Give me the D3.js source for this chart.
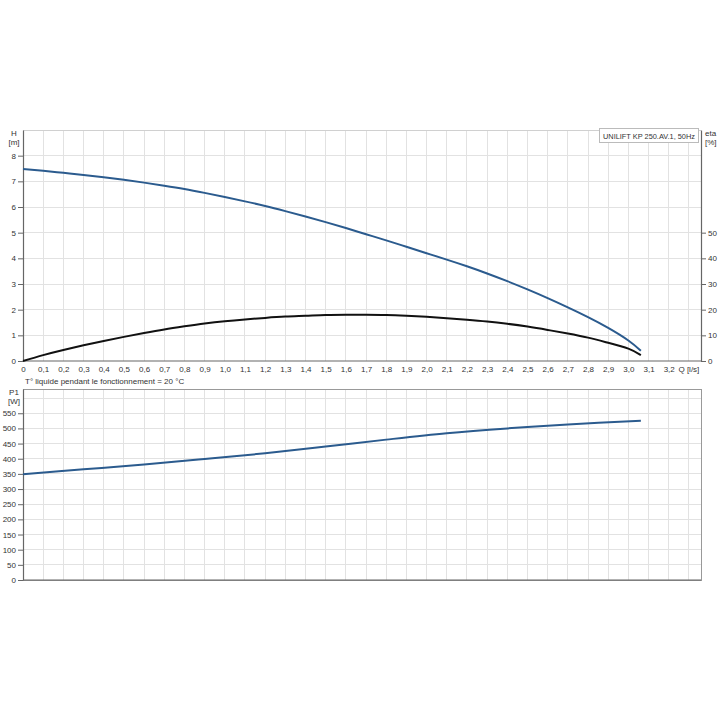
<!DOCTYPE html>
<html><head><meta charset="utf-8">
<script src="https://cdn.jsdelivr.net/npm/d3@7"></script>
<style>
body{margin:0;background:#fff}
svg text{font-family:"Liberation Sans",Arial,sans-serif;fill:#333}
</style>
</head><body>
<svg id="c" width="720" height="720"></svg>
<script>
// ---- data ----
const flowQ = [0,0.1,0.2,0.3,0.4,0.5,0.6,0.7,0.8,0.9,1.0,1.1,1.2,1.3,1.4,1.5,1.6,1.7,1.8,1.9,2.0,2.1,2.2,2.3,2.4,2.5,2.6,2.7,2.8,2.9,3.0,3.062];
const headH = [7.48,7.41,7.33,7.25,7.16,7.06,6.95,6.83,6.70,6.55,6.39,6.22,6.04,5.84,5.63,5.41,5.18,4.94,4.70,4.45,4.20,3.95,3.69,3.41,3.11,2.79,2.45,2.09,1.71,1.29,0.80,0.40];
const effEta = [0,2.3,4.3,6.1,7.8,9.4,10.9,12.3,13.5,14.6,15.5,16.2,16.8,17.3,17.6,17.9,18.0,18.0,17.9,17.6,17.2,16.7,16.1,15.4,14.5,13.4,12.1,10.7,9.1,7.1,4.8,2.3];
const powerQ = [0,0.3,0.6,0.9,1.2,1.5,1.8,2.1,2.4,2.7,3.062];
const powerP1 = [349,365,381,399,418,440,463,484,500,513,525];
const qTicks = d3.range(0,33).map(i => i/10);
const hTicks = [0,1,2,3,4,5,6,7,8];
const etaTicks = [0,10,20,30,40,50];
const p1Ticks = [0,50,100,150,200,250,300,350,400,450,500,550];
const legendText = "UNILIFT KP 250.AV.1, 50Hz";
const noteText = "T° liquide pendant le fonctionnement = 20 °C";

// ---- layout ----
const L = 23, R = 701;
const T1 = 130, B1 = 361;
const T2 = 389, B2 = 580;
const blue = "#2b5b8e";
const fs = 8;

const svg = d3.select("#c");
svg.append("rect").attr("width",720).attr("height",720).attr("fill","#fff");

const x = d3.scaleLinear().domain([0,3.36]).range([L,R]);
const yH = d3.scaleLinear().domain([0,9]).range([B1,T1]);
const yEta = d3.scaleLinear().domain([0,90]).range([B1,T1]);
const yP = d3.scaleLinear().domain([0,630]).range([B2,T2]);
const fmt = v => v === 0 ? "0" : d3.format(".1f")(v).replace(".", ",");

function grid(g, yScale, yVals, top, bottom){
  const vx = d3.range(1,34).map(i=>i/10);
  g.selectAll(".vg").data(vx).join("line")
    .attr("x1",d=>x(d)).attr("x2",d=>x(d)).attr("y1",top).attr("y2",bottom)
    .attr("stroke","#e2e2e2").attr("stroke-width",1).attr("shape-rendering","crispEdges");
  g.selectAll(".hg").data(yVals).join("line")
    .attr("x1",L).attr("x2",R).attr("y1",d=>yScale(d)).attr("y2",d=>yScale(d))
    .attr("stroke","#e2e2e2").attr("stroke-width",1).attr("shape-rendering","crispEdges");
}

// ---- top chart ----
const g1 = svg.append("g");
grid(g1, yH, [1,2,3,4,5,6,7,8], T1, B1);
g1.append("line").attr("x1",L).attr("x2",R).attr("y1",T1).attr("y2",T1)
  .attr("stroke","#d0d0d0").attr("shape-rendering","crispEdges");

const axH = d3.axisLeft(yH).tickValues(hTicks).tickSize(5).tickSizeOuter(0).tickPadding(2);
const gH = g1.append("g").attr("transform",`translate(${L},0)`).call(axH);
const axEta = d3.axisRight(yEta).tickValues(etaTicks).tickSize(5).tickSizeOuter(0).tickPadding(2);
const gE = g1.append("g").attr("transform",`translate(${R},0)`).call(axEta);
const axQ = d3.axisBottom(x).tickValues(qTicks).tickFormat(fmt).tickSize(0).tickPadding(5).tickSizeOuter(0);
const gQ = g1.append("g").attr("transform",`translate(0,${B1})`).call(axQ);
[gH,gE,gQ].forEach(g=>{
  g.selectAll("text").attr("font-size",fs).style("fill","#333");
  g.select(".domain").attr("stroke","#666").attr("stroke-width",1.2);
  g.selectAll(".tick line").attr("stroke","#666");
});
gQ.select(".domain").attr("d",`M${L},0H${R}`);

g1.append("text").attr("x",x(3.3)).attr("y",B1+11).attr("text-anchor","middle")
  .attr("font-size",fs).text("Q [l/s]");
g1.append("text").attr("x",14).attr("y",T1+6).attr("text-anchor","middle").attr("font-size",fs).text("H");
g1.append("text").attr("x",14).attr("y",T1+15).attr("text-anchor","middle").attr("font-size",fs).text("[m]");
g1.append("text").attr("x",705).attr("y",T1+6).attr("font-size",fs).text("eta");
g1.append("text").attr("x",705).attr("y",T1+15).attr("font-size",fs).text("[%]");

const lineH = d3.line().x((d,i)=>x(flowQ[i])).y(d=>yH(d)).curve(d3.curveNatural);
const lineE = d3.line().x((d,i)=>x(flowQ[i])).y(d=>yEta(d)).curve(d3.curveNatural);
g1.append("path").datum(headH).attr("d",lineH).attr("fill","none").attr("stroke",blue).attr("stroke-width",2);
g1.append("path").datum(effEta).attr("d",lineE).attr("fill","none").attr("stroke","#111").attr("stroke-width",2);

// legend
const lg = g1.append("g");
lg.append("rect").attr("x",599.5).attr("y",T1-1.5).attr("width",99).attr("height",14)
  .attr("fill","#fff").attr("stroke","#bbb").attr("stroke-width",1);
lg.append("text").attr("x",603).attr("y",T1+9).attr("font-size",7.6)
  .attr("textLength",92).attr("lengthAdjust","spacingAndGlyphs").text(legendText);

// note
svg.append("text").attr("x",25).attr("y",384).attr("font-size",fs).text(noteText);

// ---- bottom chart ----
const g2 = svg.append("g");
grid(g2, yP, [50,100,150,200,250,300,350,400,450,500,550,600], T2, B2);
g2.append("rect").attr("x",L).attr("y",T2).attr("width",R-L).attr("height",B2-T2)
  .attr("fill","none").attr("stroke","#999").attr("shape-rendering","crispEdges");
const axP = d3.axisLeft(yP).tickValues(p1Ticks).tickSize(5).tickSizeOuter(0).tickPadding(2);
const gP = g2.append("g").attr("transform",`translate(${L},0)`).call(axP);
gP.selectAll("text").attr("font-size",fs).style("fill","#333");
gP.select(".domain").attr("stroke","#666").attr("stroke-width",1.2);
gP.selectAll(".tick line").attr("stroke","#666");
g2.append("line").attr("x1",L).attr("x2",R).attr("y1",B2).attr("y2",B2).attr("stroke","#666").attr("stroke-width",1.2);
g2.append("text").attr("x",14).attr("y",T2+6).attr("text-anchor","middle").attr("font-size",fs).text("P1");
g2.append("text").attr("x",14).attr("y",T2+15).attr("text-anchor","middle").attr("font-size",fs).text("[W]");

const lineP = d3.line().x((d,i)=>x(powerQ[i])).y(d=>yP(d)).curve(d3.curveCatmullRom.alpha(0.5));
g2.append("path").datum(powerP1).attr("d",lineP).attr("fill","none").attr("stroke",blue).attr("stroke-width",2);
</script>
</body></html>
